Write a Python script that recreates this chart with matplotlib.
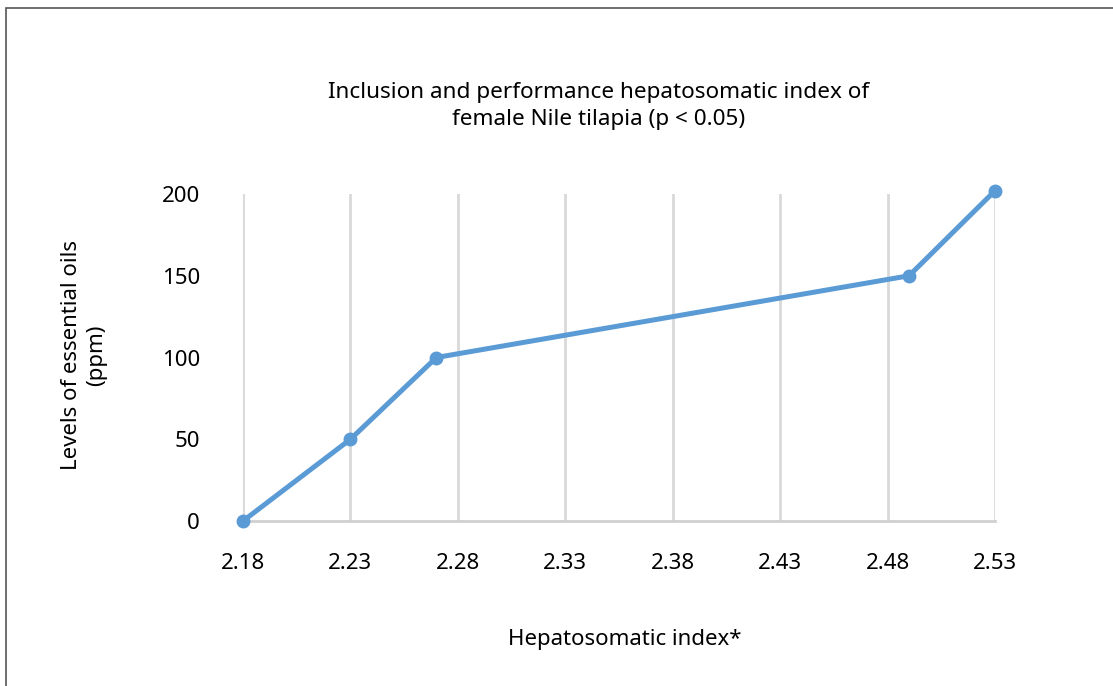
import matplotlib
matplotlib.use("Agg")
import matplotlib.pyplot as plt
from matplotlib.patches import Rectangle

# data
hsi = [2.18, 2.23, 2.27, 2.49, 2.53]
oil_ppm = [0, 50, 100, 150, 202]
xticks = [2.18, 2.23, 2.28, 2.33, 2.38, 2.43, 2.48, 2.53]
yticks = [0, 50, 100, 150, 200]

plt.rcParams['font.family'] = ['Noto Sans', 'DejaVu Sans']

fig = plt.figure(figsize=(11.13, 6.86), dpi=100)
ax = fig.add_axes([243/1113, 1-521/686, (995-243)/1113, (521-194)/686])

ax.plot(hsi, oil_ppm, color="#5b9bd5", lw=3.6, marker="o", ms=9, clip_on=False, zorder=3)

ax.set_xlim(2.18, 2.53)
ax.set_ylim(0, 200)
ax.set_xticks(xticks)
ax.set_xticklabels([f"{v:.2f}" for v in xticks])
ax.set_yticks(yticks)
ax.tick_params(axis="both", length=0, labelsize=16)
ax.tick_params(axis="x", pad=23)
ax.tick_params(axis="y", pad=31)

ax.grid(axis="x", color="#d9d9d9", lw=2)
ax.set_axisbelow(True)
for s in ["left", "right", "top"]:
    ax.spines[s].set_visible(False)
ax.spines["bottom"].set_color("#d0d0d0")
ax.spines["bottom"].set_linewidth(2)

fig.text(599/1113, 1-106/686, "Inclusion and performance hepatosomatic index of\nfemale Nile tilapia (p < 0.05)",
         ha="center", va="center", fontsize=16.2, linespacing=1.35)
fig.text(84/1113, 1-355/686, "Levels of essential oils\n(ppm)", rotation=90,
         ha="center", va="center", fontsize=16, linespacing=1.3)
fig.text(625/1113, 1-640/686, "Hepatosomatic index*", ha="center", va="center", fontsize=16)

# outer frame (only left/top edges visible in the crop)
fig.patches.append(Rectangle((6/1113, -0.1), 1.2, 1-8/686 + 0.1, transform=fig.transFigure,
                             fill=False, edgecolor="#555555", lw=1.2))

fig.savefig("out.png", dpi=100)
